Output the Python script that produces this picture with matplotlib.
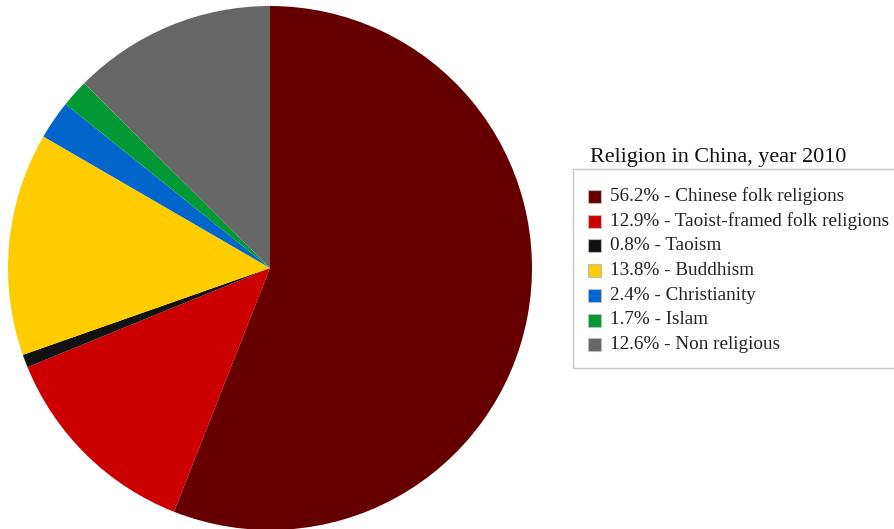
import matplotlib
matplotlib.use("Agg")
import matplotlib.pyplot as plt
from matplotlib.patches import Rectangle

# Religion in China, 2010 (percent of population)
religions = ["Chinese folk religions", "Taoist-framed folk religions", "Taoism",
             "Buddhism", "Christianity", "Islam", "Non religious"]
shares = [56.2, 12.9, 0.8, 13.8, 2.4, 1.7, 12.6]
colors = ["#660000", "#cc0000", "#111111", "#ffcc00", "#0066cc", "#009933", "#666666"]
title = "Religion in China, year 2010"

W, H = 894, 529
fig = plt.figure(figsize=(W / 100, H / 100), dpi=100)

# pie centred at (270, 268) px with radius 262 px
cx, cy, r = 270, 268, 262
ax = fig.add_axes([(cx - r) / W, (H - cy - r) / H, 2 * r / W, 2 * r / H])
ax.pie(shares, colors=colors, startangle=90, counterclock=False,
       radius=1, wedgeprops=dict(linewidth=0))
ax.set_xlim(-1, 1)
ax.set_ylim(-1, 1)
ax.set_aspect("equal")
ax.axis("off")

serif = ["Liberation Serif", "DejaVu Serif"]

# legend drawn in figure pixel coordinates
def px(x, y):
    return x / W, 1 - y / H

box_l, box_t, box_b = 573, 169, 368
fig.patches.append(Rectangle(px(box_l, box_b), (W + 5 - box_l) / W, (box_b - box_t) / H,
                             transform=fig.transFigure, facecolor="white",
                             edgecolor="#c8c8c8", linewidth=1.0))

tx, ty = px(590, 162)
fig.text(tx, ty, title, family=serif, fontsize=15.9, color="#111111",
         ha="left", va="baseline")

row0, step = 196.5, 24.7
for i, (name, val, col) in enumerate(zip(religions, shares, colors)):
    yc = row0 + i * step
    sx, sy = px(588, yc + 6.5)
    fig.patches.append(Rectangle((sx, sy), 13 / W, 13 / H, transform=fig.transFigure,
                                 facecolor=col, edgecolor="#bbbbbb", linewidth=0.8))
    lx, ly = px(610, yc)
    fig.text(lx, ly, f"{val}% - {name}", family=serif, fontsize=13.8,
             color="#222222", ha="left", va="center")

fig.savefig("out.png", dpi=100)
